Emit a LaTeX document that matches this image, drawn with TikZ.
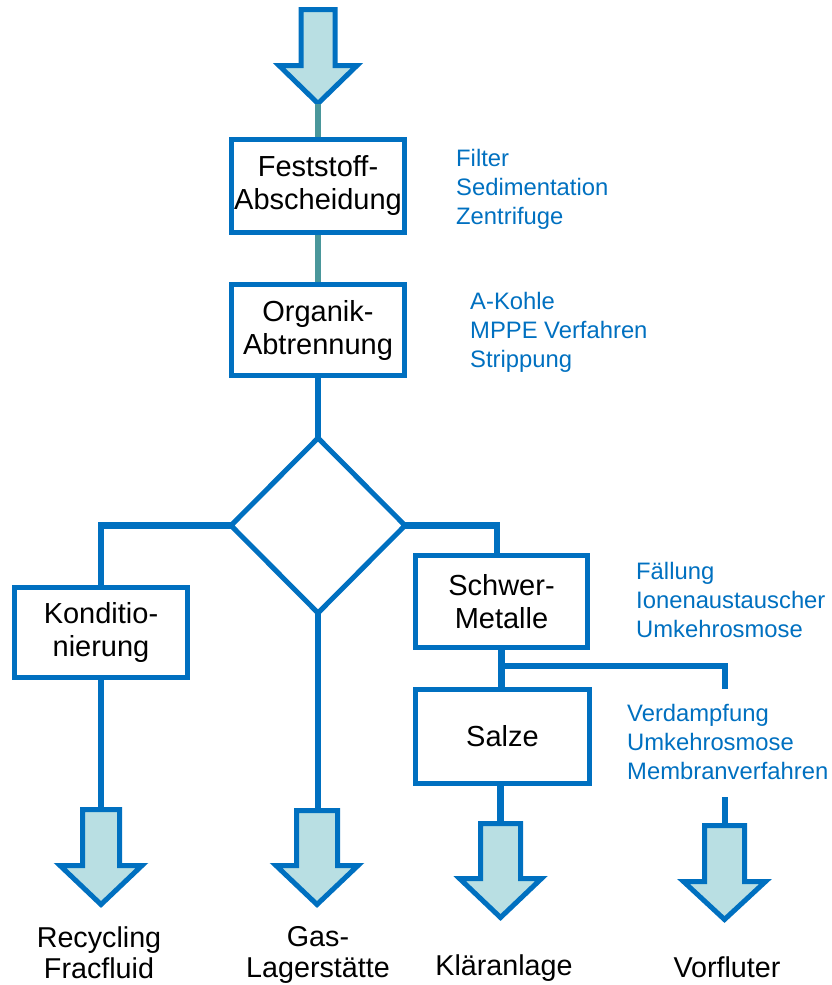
\documentclass[tikz,border=0pt]{standalone}
\usepackage{fontspec}
\setmainfont{Liberation Sans}
\usetikzlibrary{shapes.geometric}
\definecolor{myblue}{HTML}{0070C0}
\definecolor{myteal}{HTML}{4A979B}
\definecolor{mylight}{HTML}{B9DFE3}
\newcommand\mybarrow[7]{%
  \draw[barrow] ({#2-#6},#3) -- ({#2+#6},#3) -- ({#2+#6},#4) -- ({#2+#7},#4) -- (#2,#5) -- ({#2-#7},#4) -- ({#2-#6},#4) -- cycle;
  \coordinate (#1-top) at (#2,#3);
  \coordinate (#1-tip) at (#2,#5);
}
\tikzset{
  box/.style={draw=myblue, line width=5pt, inner sep=0pt, align=center, font=\fontsize{29}{33}\selectfont},
  conn/.style={draw=myblue, line width=6.5pt, line join=miter},
  tconn/.style={draw=myteal, line width=6.5pt},
  barrow/.style={draw=myblue, fill=mylight, line width=5pt, line join=miter},
  note/.style={text=myblue, align=left, anchor=north west, inner sep=0pt, font=\fontsize{23.8}{29}\selectfont},
  lab/.style={align=center, inner sep=0pt, font=\fontsize{28.7}{31}\selectfont},
}
\begin{document}
\begin{tikzpicture}[x=1pt,y=-1pt]
\useasboundingbox (0,0) rectangle (832,985);

% block arrows
\mybarrow{arr0}{318}{9.5}{65.5}{103.5}{17}{39}
\mybarrow{arr1}{101}{809.5}{865.5}{904.5}{18.5}{41}
\mybarrow{arr2}{317}{810.5}{865.5}{904.5}{20.5}{41}
\mybarrow{arr3}{500.5}{823.5}{878.5}{917.5}{20}{41}
\mybarrow{arr4}{724.5}{825.5}{881.5}{919.5}{20}{41}

% boxes
\node[box, minimum width=173pt, minimum height=93pt] (fest) at (318,186) {Feststoff-\\Abscheidung};
\node[box, minimum width=173pt, minimum height=91pt] (org) at (318,330) {Organik-\\Abtrennung};
\node[draw=myblue, line width=5pt, diamond, inner sep=0pt, outer sep=0pt, minimum width=174pt, minimum height=175pt] (dia) at (318,525.5) {};
\node[box, minimum width=173pt, minimum height=90pt] (kond) at (101,632.5) {Konditio-\\nierung};
\node[box, minimum width=172pt, minimum height=92pt] (schwer) at (501.5,601.5) {Schwer-\\Metalle};
\node[box, minimum width=174pt, minimum height=94pt] (salze) at (502.5,736.5) {Salze};

% connectors
\draw[tconn] (arr0-tip) -- (fest.north);
\draw[tconn] (fest.south) -- (org.north);
\draw[conn] (org.south) -- (dia.north);
\draw[conn] (dia.west) -| (kond.north);
\coordinate (rb) at (497,525.5);
\draw[conn] (dia.east) -- (rb) -- (rb |- schwer.north);
\draw[conn] (dia.south) -- (dia.south |- arr2-top);
\draw[conn] (kond.south) -- (arr1-top);
\draw[conn] (schwer.south) -- (schwer.south |- salze.north);
\coordinate (jn) at (501.5,666);
\coordinate (jv) at (725,689);
\draw[conn] (jn) -| (jv);
\coordinate (vs) at (725,797);
\draw[conn] (vs) -- (vs |- arr4-top);
\draw[conn] (arr3-top |- salze.south) -- (arr3-top);

% method notes
\node[note] (n1) at (456,149) {Filter\\Sedimentation\\Zentrifuge};
\node[note] (n2) at (470,292) {A-Kohle\\MPPE Verfahren\\Strippung};
\node[note] (n3) at (636,562) {Fällung\\Ionenaustauscher\\Umkehrosmose};
\node[note] (n4) at (627,704) {Verdampfung\\Umkehrosmose\\Membranverfahren};

% outlet labels
\node[lab] (l1) at (99,953) {Recycling\\Fracfluid};
\node[lab] (l2) at (318,955) {Gas-\\Lagerstätte};
\node[lab] (l3) at (504,968) {Kläranlage};
\node[lab] (l4) at (727,967) {Vorfluter};
\end{tikzpicture}
\end{document}
